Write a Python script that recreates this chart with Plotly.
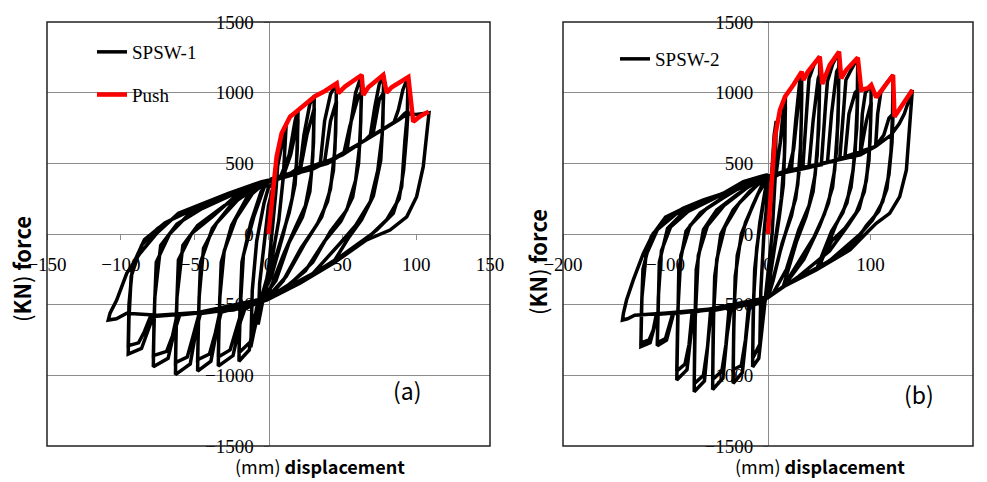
import plotly.graph_objects as go

# ---------------- data ----------------
x_ticks_a = [-150, -100, -50, 0, 50, 100, 150]
x_ticks_b = [-200, -100, 0, 100, 200]
y_ticks = [-1500, -1000, -500, 0, 500, 1000, 1500]

# SPSW-1 cyclic response (displacement mm, force kN)
spsw1_disp = [
    0, 3, 6, 7, 5, 2, 0, -4, -7, -6, -3, 0,
    5, 10, 12, 10, 7, 2, -4, -10, -12, -11, -8, -3, 0,
    8, 14, 18, 20, 19.5, 18, 14, 8, 4, -2, -6, -10, -13, -20, -19.5, -18, -12, -5, 0,
    10, 15, 19, 20, 19, 16, 10, 2, -5, -8, -12, -20, -19, -17, -10, -3, 2,
    21, 24, 28, 31, 30.5, 29, 25, 18, 10, 0, -10, -16, -19, -24, -34, -33.5, -32, -25, -15, -5, 5,
    15, 22, 26, 31, 30, 28, 23, 14, 5, -5, -18, -21, -26, -34, -33, -30, -22, -10, 0,
    20, 35, 38, 42, 46, 45.5, 44, 40, 33, 22, 10, 0, -20, -32, -35, -39, -48, -47.5, -46, -38, -25, -10, 5,
    20, 38, 42, 46, 45, 42, 36, 25, 12, 0, -20, -33, -36, -40, -48, -47, -44, -35, -20, 0,
    25, 42, 53, 56, 59, 63, 62.5, 61, 57, 49, 38, 25, 10, 0, -25, -46, -49, -53, -63, -62.5, -61, -52, -38, -20, 0,
    30, 51, 55, 61, 63, 62, 59, 53, 42, 30, 15, 0, -30, -47, -51, -55, -63, -62, -58, -48, -30, -10, 0,
    30, 50, 65, 69, 72, 75, 78, 77.5, 76, 71, 63, 54, 44, 21, 0, -25, -50, -60, -64, -68, -78, -77.5, -76, -67, -54, -35, -15, 0,
    40, 65, 71, 75, 78, 77, 74, 69, 59, 49, 30, 0, -30, -62, -65, -69, -78, -77, -73, -62, -45, -20, 0,
    40, 65, 85, 88, 91, 94.5, 94, 92.4, 90.2, 84.5, 73.3, 60, 44, 21, 0, -25, -50, -78, -82, -86, -95, -94.5, -93, -86, -75, -60, -40, -20, 0,
    42, 65, 88, 92, 94.5, 93.5, 91.5, 88.5, 80, 70, 50, 21, 0, -50, -80, -84, -88, -95, -94.5, -92, -84, -70, -50, -25, 0,
    42, 65, 88, 94, 100, 105, 108.7, 104.8, 100.3, 93.6, 82.3, 66.5, 43.9, 21.3, -1.2, -23.8, -50, -75, -96, -103, -108.5,
    -107.3, -102.8, -96, -87, -75.7, -61, -49.8, -27.2, -4.6, 0,
]
spsw1_force = [
    0, 300, 520, 600, 300, 0, -250, -480, -640, -350, -50, 200,
    420, 700, 780, 400, 100, -200, -420, -700, -800, -400, -50, 220, 330,
    400, 560, 800, 878, 600, 350, 150, -60, -200, -400, -480, -600, -820, -900, -600, -200, 80, 300, 370,
    410, 560, 780, 810, 500, 250, 0, -300, -450, -520, -760, -840, -500, -150, 120, 330, 390,
    440, 700, 920, 975, 650, 420, 200, 40, -150, -420, -500, -530, -620, -860, -935, -600, -200, 60, 250, 340, 400,
    430, 480, 700, 890, 550, 300, 120, -60, -330, -470, -540, -640, -820, -870, -450, -120, 110, 300, 370,
    430, 490, 800, 990, 1066, 720, 450, 230, 70, -100, -330, -450, -520, -550, -680, -900, -970, -600, -200, 40, 210, 320, 400,
    430, 510, 800, 940, 600, 320, 120, -60, -300, -440, -520, -555, -700, -850, -890, -450, -100, 80, 250, 370,
    450, 524, 580, 800, 1000, 1125, 800, 500, 260, 90, -50, -260, -390, -450, -530, -560, -680, -920, -995, -600, -184, 5, 122, 290, 380,
    460, 570, 760, 980, 1000, 650, 380, 170, 20, -200, -350, -450, -540, -565, -720, -870, -910, -450, -80, 60, 200, 330, 380,
    470, 560, 660, 700, 900, 1060, 1125, 800, 520, 270, 100, -30, -200, -345, -450, -530, -560, -570, -700, -880, -940, -600, -200, 0, 140, 230, 320, 380,
    500, 660, 720, 950, 1000, 700, 450, 230, 60, -60, -280, -450, -540, -575, -720, -830, -860, -450, -80, 70, 180, 300, 380,
    500, 660, 790, 880, 1020, 1110, 850, 665, 335, 146, 28, -80, -200, -345, -450, -530, -560, -580, -700, -810, -850, -600, -300, -80, 40, 140, 230, 310, 380,
    524, 660, 807, 850, 870, 700, 450, 250, 100, 0, -150, -345, -450, -560, -585, -690, -770, -790, -500, -220, -40, 80, 180, 290, 380,
    524, 660, 807, 850, 845, 850, 858, 476, 264, 122, 28, -42, -207, -349, -467, -538, -560, -575, -561, -600, -609,
    -560, -467, -278, -137, 5, 146, 193, 288, 370, 380,
]

# SPSW-1 push (envelope) curve
push1_disp = [0, 3.3, 5.5, 8.9, 14.6, 20.2, 26, 31.5, 38, 46.2, 47.3, 51.8, 63.1, 64.2, 67.6,
              77.7, 80, 83.4, 94.7, 97, 98, 103, 108.5]
push1_force = [0, 311, 547, 713, 830, 878, 930, 975, 1010, 1066, 996, 1043, 1125, 984, 1038,
               1125, 1000, 1038, 1110, 878, 795, 835, 866]

# SPSW-2 cyclic response (displacement mm, force kN)
spsw2_disp = [
    0, 3, 6, 8, 7, 4, 0, -4, -8, -7, -4, 0,
    8, 12, 15, 17, 16.5, 15, 11, 5, 0, -3, -6, -9, -15, -14.5, -13, -8, -3, 0,
    8, 13, 17, 16, 13, 8, 2, -4, -8, -15, -14, -11, -5, 0,
    15, 23, 27, 31, 33, 32.5, 31, 27, 20, 12, 5, 0, -10, -18, -21, -25, -34, -33.5, -32, -26, -15, -5, 0,
    20, 25, 30, 33, 32, 29, 23, 14, 5, -5, -19, -22, -26, -34, -33, -30, -22, -10, 0,
    20, 34, 38, 40, 45, 50.5, 50, 48, 44, 37, 28, 15, 0, -20, -36, -40, -44, -54, -53.5, -52, -46, -34, -18, 0,
    25, 40, 44, 49, 50.5, 49.5, 46, 40, 30, 18, 5, -20, -38, -41, -45, -54, -53, -50, -42, -28, -10, 0,
    30, 52, 56, 58, 63, 69.3, 68.8, 67, 63, 55, 45, 30, 15, 0, -30, -55, -58, -62, -72, -71.5, -70, -63, -50, -30, -10, 0,
    30, 58, 62, 67, 69.3, 68.3, 65, 59, 50, 35, 15, 0, -30, -56, -59, -63, -72, -71, -68, -59, -43, -20, 0,
    30, 60, 70, 74, 76, 81, 87.6, 87, 85, 81, 73, 62, 47, 15, 0, -30, -60, -72, -75, -79, -89, -88.5, -87, -80, -66, -45, -20, 0,
    40, 75, 79, 85, 87.6, 86.6, 83, 77, 66, 50, 15, 0, -60, -74, -77, -81, -89, -88, -85, -76, -60, -35, 0,
    40, 75, 90, 92, 95, 100.7, 100.2, 98.5, 94, 86, 75, 62, 47, 15, 0, -40, -80, -92, -95, -99, -108, -107.5, -106, -98, -83, -60, -30, 0,
    50, 90, 96, 100.7, 99.5, 96, 89, 78, 60, 30, 0, -50, -93, -96, -100, -108, -107, -104, -95, -78, -50, 0,
    50, 90, 105, 107, 110, 116, 122, 121.5, 120, 116, 108, 96, 85, 47, 15, 0, -40, -80, -108, -111, -115, -124, -123.5, -122, -114, -100, -80, -50, -20, 0,
    60, 105, 113, 118, 122, 121, 118, 112, 102, 90, 60, 15, 0, -60, -109, -112, -116, -124, -123, -119, -108, -90, -60, -25, 0,
    60, 105, 120, 128, 133, 138, 140.8, 135, 128.5, 118.7, 105.6, 99, 80, 47, 15, 0, -20, -60, -100, -130, -137, -142,
    -141, -138, -131.4, -121.6, -111.9, -96, -83, -63, -43.6, -24, -7.8, 0,
]
spsw2_force = [
    0, 400, 700, 800, 400, 0, -300, -550, -800, -400, 0, 300,
    430, 650, 880, 972, 650, 350, 120, -150, -400, -480, -700, -880, -940, -600, -250, 80, 300, 400,
    440, 700, 900, 550, 250, 0, -300, -500, -780, -880, -450, -100, 200, 380,
    440, 470, 800, 1080, 1149, 800, 480, 250, 80, -120, -330, -450, -490, -510, -700, -980, -1057, -700, -300, 0, 200, 360, 410,
    450, 600, 950, 1000, 650, 350, 130, -60, -320, -480, -515, -750, -930, -960, -500, -150, 80, 280, 400,
    450, 470, 900, 1100, 1200, 1255, 900, 560, 300, 120, -50, -370, -450, -500, -525, -720, -1020, -1100, -700, -300, 0, 170, 300, 410,
    455, 480, 800, 1100, 1130, 750, 420, 200, 30, -250, -420, -500, -530, -780, -970, -1030, -550, -180, 50, 220, 350, 410,
    460, 490, 900, 1080, 1200, 1290, 950, 600, 330, 140, -20, -200, -373, -450, -510, -540, -720, -1040, -1116, -700, -250, 30, 170, 280, 380, 410,
    460, 505, 850, 1150, 1180, 800, 450, 220, 50, -180, -373, -450, -510, -545, -800, -1000, -1060, -600, -150, 60, 200, 330, 410,
    460, 510, 530, 900, 1090, 1160, 1248, 900, 580, 330, 150, 20, -255, -373, -450, -510, -540, -550, -700, -960, -1033, -700, -250, 20, 150, 250, 360, 410,
    470, 540, 850, 1000, 1020, 750, 450, 220, 60, -230, -373, -450, -540, -555, -780, -920, -970, -550, -150, 60, 180, 300, 410,
    470, 540, 560, 850, 1000, 1054, 800, 520, 300, 150, 40, -50, -255, -373, -450, -520, -550, -560, -640, -750, -790, -550, -200, 40, 150, 240, 330, 410,
    490, 560, 800, 930, 650, 380, 180, 60, -120, -300, -450, -530, -565, -650, -740, -770, -450, -120, 50, 160, 260, 410,
    490, 560, 620, 850, 1000, 1070, 1125, 850, 580, 320, 160, 60, -60, -255, -373, -450, -520, -550, -565, -660, -770, -797, -550, -250, -20, 120, 190, 260, 370, 410,
    510, 620, 700, 820, 850, 650, 420, 230, 100, 0, -190, -373, -450, -540, -570, -680, -750, -770, -450, -150, 30, 140, 230, 350, 410,
    510, 620, 700, 780, 850, 950, 1019, 453, 264, 146, 76, 28, -113, -255, -373, -450, -500, -540, -560, -575, -600, -609,
    -560, -467, -325, -137, 5, 122, 182, 241, 288, 370, 406, 420,
]

# SPSW-2 push (envelope) curve
push2_disp = [0, 3.6, 6.8, 11.7, 16.6, 24.7, 32.9, 34.5, 39, 50.5, 53, 60.2, 69.3, 71.4, 76.3,
              87.6, 91, 97.4, 100.7, 105.6, 122, 123.4, 140.8]
push2_force = [0, 406, 688, 878, 972, 1054, 1149, 1090, 1149, 1255, 1061, 1196, 1290, 1102, 1160,
               1248, 1019, 1031, 1054, 967, 1125, 830, 1019]

# ---------------- figure ----------------
W, H = 987, 482
serif = "Liberation Serif"
sans = "Noto Sans CJK KR"

fig = go.Figure()
fig.add_trace(go.Scatter(x=spsw1_disp, y=spsw1_force, mode="lines", name="SPSW-1",
                         line=dict(color="black", width=3.5), xaxis="x", yaxis="y",
                         legend="legend", legendgroup="g1"))
fig.add_trace(go.Scatter(x=push1_disp, y=push1_force, mode="lines", name="Push",
                         line=dict(color="#ff0000", width=4.5), xaxis="x", yaxis="y",
                         legend="legend", legendgroup="g2"))
fig.add_trace(go.Scatter(x=spsw2_disp, y=spsw2_force, mode="lines", name="SPSW-2",
                         line=dict(color="black", width=3.5), xaxis="x2", yaxis="y2",
                         legend="legend2"))
fig.add_trace(go.Scatter(x=push2_disp, y=push2_force, mode="lines", name="Push",
                         line=dict(color="#ff0000", width=4.5), xaxis="x2", yaxis="y2",
                         showlegend=False))

ydom = [1 - 446 / H, 1 - 22 / H]
ymid = (ydom[0] + ydom[1]) / 2
xdom_a = [47 / W, 490 / W]
xdom_b = [563 / W, 973 / W]

grid = "#8c8c8c"
tickfont = dict(family=serif, size=19, color="black")


def xax(dom, rng, ticks):
    return dict(domain=dom, range=rng, tickvals=ticks, anchor="free", position=ymid,
                showgrid=False, zeroline=False, showline=True, linecolor=grid, linewidth=1,
                ticks="outside", ticklen=5, tickcolor=grid, tickfont=tickfont,
                ticklabelstandoff=8, layer="below traces", fixedrange=True, automargin=False)


def yax(dom, pos):
    return dict(domain=dom, range=[-1500, 1500], tickvals=y_ticks, anchor="free", position=pos,
                showgrid=True, gridcolor=grid, gridwidth=1.2, zeroline=False, showline=True,
                linecolor=grid, linewidth=1, ticks="outside", ticklen=5, tickcolor=grid,
                tickfont=tickfont, ticklabelstandoff=6, layer="below traces",
                fixedrange=True, automargin=False)


pos_a = xdom_a[0] + (xdom_a[1] - xdom_a[0]) * 0.5
pos_b = xdom_b[0] + (xdom_b[1] - xdom_b[0]) * 0.5

fig.update_layout(
    width=W, height=H, margin=dict(l=0, r=0, t=0, b=0),
    paper_bgcolor="white", plot_bgcolor="white",
    xaxis=xax(xdom_a, [-150, 150], x_ticks_a),
    yaxis=yax(ydom, pos_a),
    xaxis2=xax(xdom_b, [-200, 200], x_ticks_b),
    yaxis2=yax(ydom, pos_b),
    legend=dict(x=92 / W, y=1 - 33 / H, xanchor="left", yanchor="top",
                bgcolor="rgba(0,0,0,0)", font=dict(family=serif, size=19, color="black"),
                traceorder="grouped", tracegroupgap=15, itemwidth=30),
    legend2=dict(x=615 / W, y=1 - 40 / H, xanchor="left", yanchor="top",
                 bgcolor="rgba(0,0,0,0)", font=dict(family=serif, size=19, color="black"),
                 itemwidth=30),
    showlegend=True,
)

for xr, yr in (("x domain", "y domain"), ("x2 domain", "y2 domain")):
    fig.add_shape(type="rect", xref=xr, yref=yr, x0=0, x1=1, y0=0, y1=1,
                  line=dict(color="#222222", width=1.5), layer="above")

ann = []
for lab, cx, cy in (("(a)", 407, 390), ("(b)", 919, 394)):
    ann.append(dict(text=lab, x=cx / W, y=1 - cy / H, xref="paper", yref="paper",
                    xanchor="center", yanchor="middle", showarrow=False,
                    font=dict(family=sans, size=23, color="black")))
for cx in (320, 820):
    ann.append(dict(text="(mm) <b>displacement</b>", x=cx / W, y=1 - 466 / H,
                    xref="paper", yref="paper", xanchor="center", yanchor="middle",
                    showarrow=False, font=dict(family=sans, size=18, color="black")))
for cx, cy in ((21, 269), (537, 262)):
    ann.append(dict(text="(<b>KN</b>) <b>force</b>", x=cx / W, y=1 - cy / H, xref="paper",
                    yref="paper", xanchor="center", yanchor="middle", showarrow=False,
                    textangle=-90, font=dict(family=sans, size=22, color="black")))
fig.update_layout(annotations=ann)

fig.write_html("out.html")
